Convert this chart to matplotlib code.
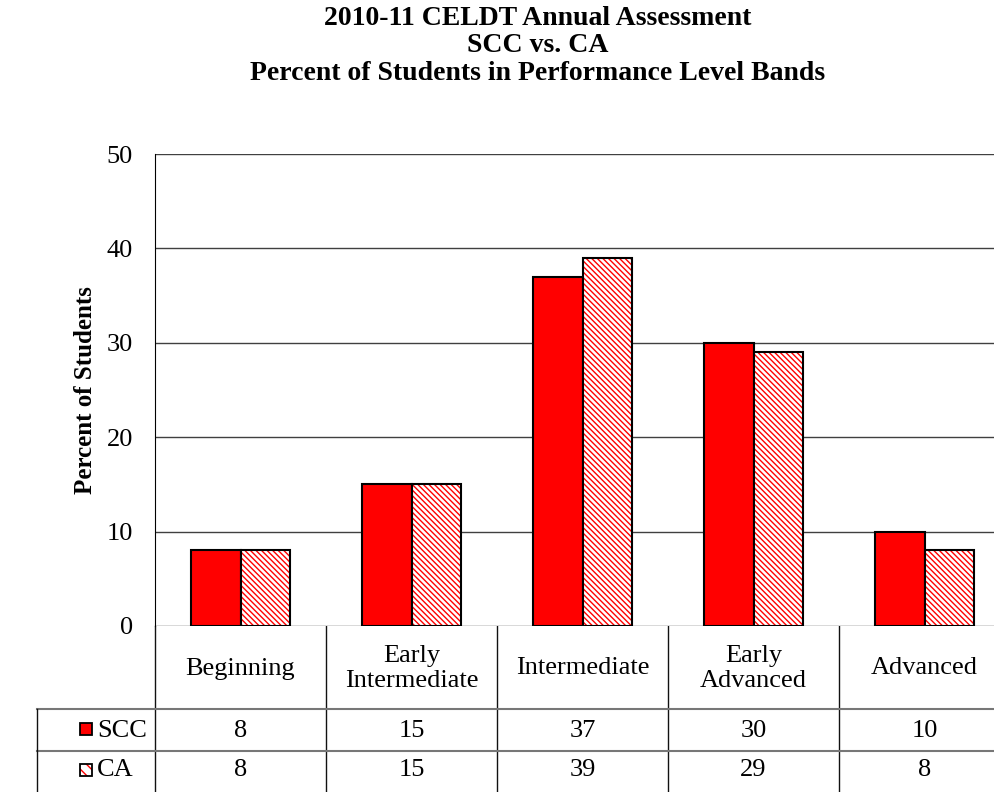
import matplotlib.pyplot as plt
from matplotlib.patches import Rectangle
import numpy as np

plt.rcParams['font.family'] = ['Liberation Serif', 'DejaVu Serif']
plt.rcParams['hatch.linewidth'] = 1.0

categories = ['Beginning', 'Early\nIntermediate', 'Intermediate', 'Early\nAdvanced', 'Advanced']
scc = [8, 15, 37, 30, 10]
ca = [8, 15, 39, 29, 8]
series_names = ['SCC', 'CA']

W, H = 994, 792
fig = plt.figure(figsize=(W / 100, H / 100), dpi=100)
FS = 19
HATCH = '\\' * 6

# main plot area (pixel layout of the reference)
left, right, top, bottom = 155, 1010, 154, 626
ax = fig.add_axes([left / W, 1 - bottom / H, (right - left) / W, (bottom - top) / H])
x = np.arange(len(categories))
bw = 0.287
ax.bar(x - bw / 2, scc, bw, color='#ff0000', edgecolor='black', linewidth=1.5, zorder=3)
ax.bar(x + bw / 2, ca, bw, color='white', edgecolor='#ff0000', hatch=HATCH, linewidth=0, zorder=3)
ax.bar(x + bw / 2, ca, bw, fill=False, edgecolor='black', linewidth=1.5, zorder=4)
ax.set_xlim(-0.5, len(categories) - 0.5)
ax.set_ylim(0, 50)
ax.set_yticks(range(0, 51, 10))
ax.set_xticks([])
ax.tick_params(axis='y', length=0, labelsize=FS, pad=16)
ax.grid(axis='y', color='#404040', linewidth=1, zorder=0)
for s in ['top', 'right', 'bottom']:
    ax.spines[s].set_visible(False)
ax.spines['left'].set_color('black')

# overlay in pixel coordinates for titles and data table
ov = fig.add_axes([0, 0, 1, 1], zorder=-1)
ov.set_xlim(0, W)
ov.set_ylim(H, 0)
ov.axis('off')

ov.text(538, 6, '2010-11 CELDT Annual Assessment\nSCC vs. CA\nPercent of Students in Performance Level Bands',
        ha='center', va='top', fontsize=20, fontweight='bold', linespacing=1.12)
ov.text(86, 390, 'Percent of Students', rotation=90, ha='center', va='center',
        fontsize=18, fontweight='bold')

cw = (right - left) / len(categories)
row1, row2 = 709, 751
lc = '#111111'
for k in range(len(categories) + 1):
    ov.plot([left + k * cw] * 2, [bottom, H], color=lc, lw=1)
ov.plot([37, right], [row1, row1], color='#777777', lw=1.5)
ov.plot([37, right], [row2, row2], color='#777777', lw=1.5)
ov.plot([37, 37], [row1, H], color=lc, lw=1)

for i, cat in enumerate(categories):
    cx = left + (i + 0.5) * cw
    ov.text(cx, (bottom + row1) / 2 + 1, cat, ha='center', va='center', fontsize=FS, linespacing=1.2)
    ov.text(cx, (row1 + row2) / 2 + 1, str(scc[i]), ha='center', va='center', fontsize=FS)
    ov.text(cx, (row2 + H) / 2 - 1, str(ca[i]), ha='center', va='center', fontsize=FS)

# legend keys
ov.add_patch(Rectangle((80, 723), 12, 12, facecolor='#ff0000', edgecolor='black', lw=1.3))
ov.add_patch(Rectangle((80, 764), 12, 12, facecolor='white', edgecolor='#ff0000', hatch='\\\\\\', lw=0))
ov.add_patch(Rectangle((80, 764), 12, 12, fill=False, edgecolor='black', lw=1.3))
ov.text(97, (row1 + row2) / 2 + 1, series_names[0], ha='left', va='center', fontsize=FS)
ov.text(97, (row2 + H) / 2 - 1, series_names[1], ha='left', va='center', fontsize=FS)

fig.savefig('out.png', dpi=100)
